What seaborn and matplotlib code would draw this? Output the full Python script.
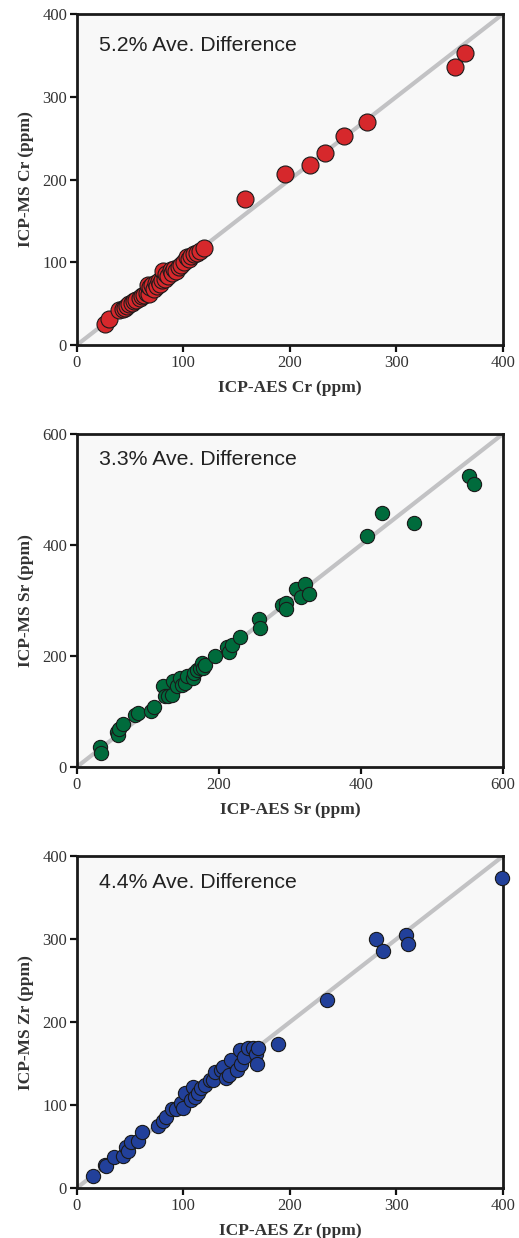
import numpy as np
import pandas as pd
import matplotlib
matplotlib.use("Agg")
import matplotlib.pyplot as plt
import seaborn as sns

# Cr (ppm): ICP-AES vs ICP-MS
cr_aes = [26, 30, 40, 43, 45, 47, 49, 52, 54, 56, 59, 61, 63, 66, 68, 67, 69, 71, 72, 74,
          75, 77, 78, 80, 81, 83, 84, 86, 88, 89, 91, 93, 96, 98, 101, 103, 105, 107, 110,
          113, 116, 119, 158, 195, 219, 233, 251, 272, 355, 364]
cr_ms = [25, 32, 42, 43, 45, 47, 49, 51, 53, 55, 57, 59, 61, 63, 62, 72, 70, 73, 68, 75,
         71, 77, 74, 79, 90, 80, 86, 83, 91, 87, 92, 90, 94, 97, 100, 106, 104, 108, 110,
         111, 114, 117, 176, 207, 218, 232, 252, 270, 336, 353]

# Sr (ppm)
sr_aes = [32, 34, 56, 58, 60, 65, 82, 86, 105, 108, 122, 124, 129, 134, 136, 141, 145, 148,
          152, 155, 164, 165, 169, 173, 176, 178, 181, 195, 211, 214, 218, 230, 257, 258,
          289, 294, 295, 309, 315, 322, 327, 409, 430, 475, 552, 559]
sr_ms = [36, 25, 63, 57, 69, 78, 93, 98, 100, 108, 145, 127, 127, 130, 154, 145, 160, 148,
         151, 163, 160, 169, 175, 178, 187, 178, 184, 200, 216, 207, 219, 234, 266, 251,
         292, 295, 285, 321, 307, 330, 311, 416, 458, 440, 524, 510]

# Zr (ppm)
zr_aes = [15, 26, 27, 35, 43, 46, 48, 51, 57, 61, 76, 81, 84, 89, 93, 98, 100, 102, 107,
          109, 111, 114, 117, 120, 125, 128, 130, 135, 137, 140, 143, 145, 150, 153, 154,
          157, 161, 165, 168, 169, 170, 189, 235, 281, 287, 309, 311, 399]
zr_ms = [15, 28, 26, 37, 39, 49, 45, 55, 57, 68, 75, 81, 85, 95, 95, 102, 97, 114, 106,
         122, 110, 114, 120, 124, 130, 130, 140, 142, 146, 132, 136, 154, 142, 166, 150,
         158, 169, 169, 162, 150, 169, 174, 227, 300, 286, 305, 294, 374]

elements = ["Cr", "Sr", "Zr"]
notes = ["5.2% Ave. Difference", "3.3% Ave. Difference", "4.4% Ave. Difference"]
limits = [400, 600, 400]
colors = ["#d6282c", "#006b3c", "#22409a"]

sns.set_style("ticks")
plt.rcParams["font.family"] = ["Liberation Serif", "DejaVu Serif"]

fig = plt.figure(figsize=(5.19, 12.38), dpi=100)
boxes = [[0.148, 0.7213, 0.821, 0.2674],
         [0.148, 0.3805, 0.821, 0.269],
         [0.148, 0.0404, 0.821, 0.268]]
note_y = [0.906, 0.922, 0.92]
sizes = [150, 105, 105]

data = [(cr_aes, cr_ms), (sr_aes, sr_ms), (zr_aes, zr_ms)]
for i, (aes, ms) in enumerate(data):
    ax = fig.add_axes(boxes[i])
    ax.set_facecolor("#f8f8f8")
    lim = limits[i]
    ax.axline((0, 0), slope=1, color="#c2c2c4", lw=3.0, zorder=1)
    df = pd.DataFrame({"aes": aes, "ms": ms})
    sns.scatterplot(data=df, x="aes", y="ms", ax=ax, color=colors[i], s=sizes[i],
                    edgecolor="#1a1a1a", linewidth=0.8, zorder=3, clip_on=False)
    ax.set_xlim(0, lim)
    ax.set_ylim(0, lim)
    step = 100 if lim == 400 else 200
    ax.set_xticks(np.arange(0, lim + 1, step))
    ax.set_yticks(np.arange(0, lim + 1, step))
    ax.tick_params(direction="out", length=5, width=1.6, labelsize=12,
                   labelcolor="#333333", color="#111111", pad=2)
    for sp in ax.spines.values():
        sp.set_linewidth(2.0)
        sp.set_color("#1a1a1a")
    ax.set_xlabel(f"ICP-AES {elements[i]} (ppm)", fontsize=12.5, fontweight="bold",
                  color="#333333", labelpad=7)
    ax.set_ylabel(f"ICP-MS {elements[i]} (ppm)", fontsize=12.5, fontweight="bold",
                  color="#333333", labelpad=6)
    ax.text(0.052, note_y[i], notes[i], transform=ax.transAxes, va="center", ha="left",
            fontsize=15.3, color="#222222", family=["Liberation Sans", "DejaVu Sans"])

fig.savefig("out.png", dpi=100)
